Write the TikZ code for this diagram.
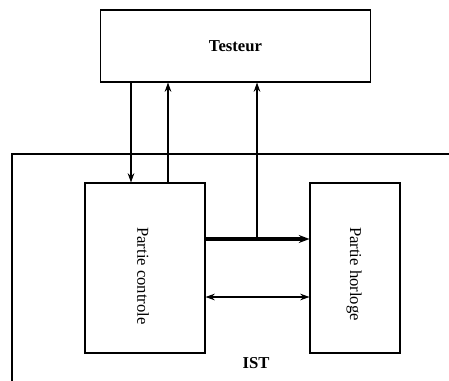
\documentclass[tikz,border=0pt]{standalone}
\usepackage{fontspec}
\setmainfont{Liberation Serif}
\usetikzlibrary{arrows.meta}

\begin{document}
\begin{tikzpicture}[x=0.75pt, y=-0.75pt, >={Stealth[length=7pt,width=5pt]}, line width=0.8pt,
    bloc/.style={draw, rectangle, inner sep=0pt, font=\fontsize{12.5}{14}\selectfont},
    bus/.style={line width=2.6pt, -{Stealth[length=8pt,width=6pt]}}]
    \useasboundingbox (0,0) rectangle (449,381);
    % blocs
    \node[bloc, minimum width=202.5pt, minimum height=54pt] (tst) at (235.5,46) {\bfseries Testeur};
    \node[bloc, minimum width=90pt, minimum height=127.5pt] (ctl) at (145,268) {};
    \node[bloc, minimum width=67.5pt, minimum height=127.5pt] (hor) at (355,268) {};
    \node[rotate=-90, font=\fontsize{12.5}{14}\selectfont] (lctl) at (143,276) {Partie controle};
    \node[rotate=-90, font=\fontsize{12.5}{14}\selectfont] (lhor) at (354,274) {Partie horloge};
    % frontiere IST
    \draw (449,154) -- (12,154) -- (12,381);
    \node[font=\fontsize{12.5}{14}\selectfont\bfseries] (ist) at (256,363) {IST};
    % liaisons
    \coordinate (d1) at (131,0);
    \coordinate (d2) at (168,0);
    \coordinate (h1) at (0,239);
    \coordinate (h2) at (0,297);
    \draw[->] (tst.south -| d1) -- (ctl.north -| d1);
    \draw[->] (ctl.north -| d2) -- (tst.south -| d2);
    \draw[bus] (ctl.east |- h1) -- (hor.west |- h1);
    \coordinate (b1) at (257,239);
    \draw[->] (b1) -- (tst.south -| b1);
    \draw[<->] (ctl.east |- h2) -- (hor.west |- h2);
\end{tikzpicture}
\end{document}
